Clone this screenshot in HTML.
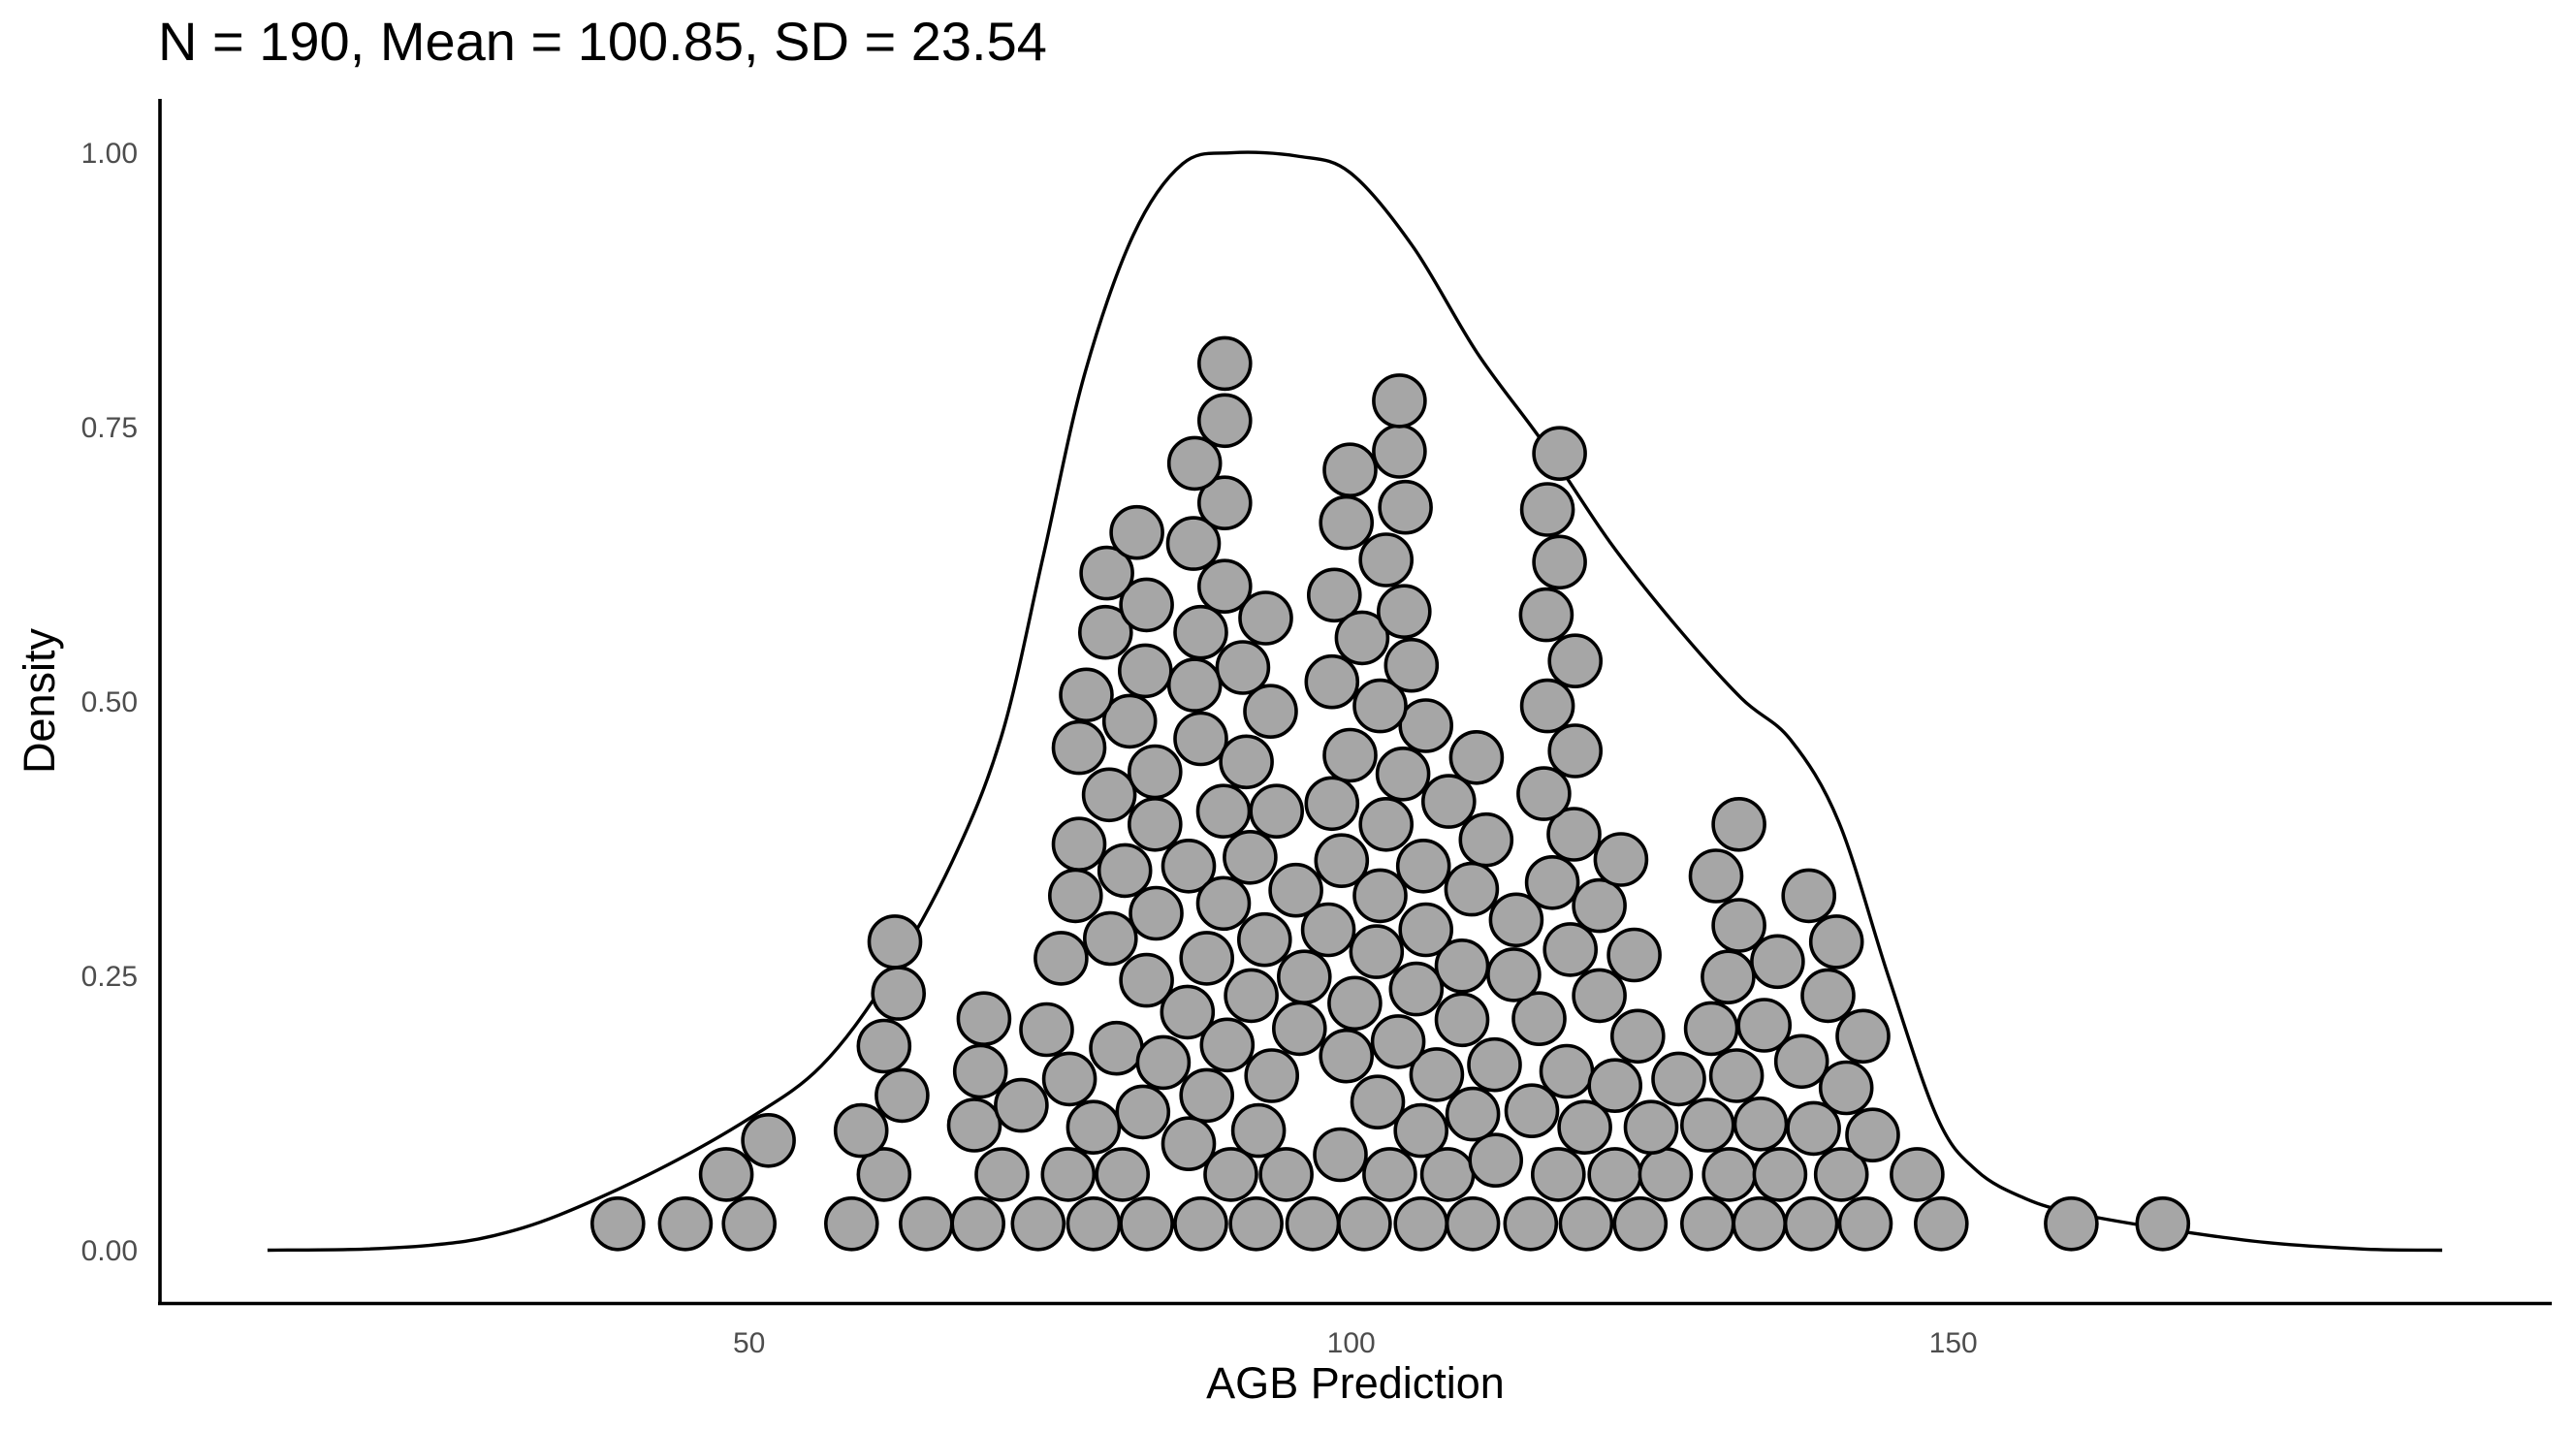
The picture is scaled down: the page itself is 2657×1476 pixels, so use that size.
<!DOCTYPE html>
<html><head><meta charset="utf-8"><style>
html,body{margin:0;padding:0;background:#fff;}
svg{display:block;font-family:"Liberation Sans",Arial,sans-serif;}
</style></head><body>
<svg id="chart" width="2657" height="1476" viewBox="0 0 2657 1476" xmlns="http://www.w3.org/2000/svg">
<text x="163" y="62" font-size="56" fill="#000">N = 190, Mean = 100.85, SD = 23.54</text>
<g id="curve-layer"></g>
<g id="dots"></g>
<g id="axes"></g>
<text x="1398" y="1442" font-size="45" text-anchor="middle" fill="#000">AGB Prediction</text>
<text transform="translate(56,723) rotate(-90)" font-size="45" text-anchor="middle" fill="#000">Density</text>
</svg>
<script>
const dotX = [39.1,44.7,50.0,58.5,64.7,69.0,74.0,78.6,83.0,87.5,92.1,96.8,101.1,105.8,110.1,114.9,119.5,124.0,129.6,133.9,138.2,142.7,149.0,159.8,167.4,
48.1,61.2,71.0,76.5,81.0,90.0,94.6,103.2,108.0,117.2,121.9,126.1,131.4,135.6,140.7,147.0,112.0,
51.6,59.3,68.7,78.6,86.5,92.3,99.1,105.8,110.1,119.4,124.9,129.6,134.0,138.4,143.3,
62.7,69.2,72.6,76.6,82.7,88.0,93.4,102.2,107.1,111.9,115.0,117.9,121.9,127.2,132.0,141.1,137.4,
61.2,69.5,74.7,80.5,84.4,89.7,95.7,99.6,103.9,109.2,115.6,123.8,129.9,134.3,142.5,
62.4,75.9,83.0,86.4,91.7,96.1,100.3,105.4,109.2,113.5,120.6,123.5,131.3,135.4,139.6,
62.1,80.0,83.8,88.0,92.8,98.1,102.1,106.2,113.7,118.2,120.6,132.2,138.0,140.3,
77.1,81.2,86.5,89.4,91.6,95.4,99.2,102.4,106.0,110.0,116.7,122.4,130.3,
77.4,83.7,89.4,93.8,98.4,102.9,108.1,111.2,118.5,132.2,
79.9,83.7,87.5,91.3,99.9,104.3,106.2,110.4,116.0,118.6,77.4,81.6,
78.0,82.9,87.0,91.0,93.3,98.4,102.4,105.0,116.3,118.6,
79.6,83.0,87.5,89.5,92.9,98.6,100.9,104.4,116.2,117.3,
79.7,82.2,86.9,89.5,99.6,102.9,104.5,116.3,
87.0,89.5,89.5,99.9,104.0,104.0,117.3];
const dotY = [0.024,0.024,0.024,0.024,0.024,0.024,0.024,0.024,0.024,0.024,0.024,0.024,0.024,0.024,0.024,0.024,0.024,0.024,0.024,0.024,0.024,0.024,0.024,0.024,0.024,
0.069,0.069,0.069,0.069,0.069,0.069,0.069,0.069,0.069,0.069,0.069,0.069,0.069,0.069,0.069,0.069,0.082,
0.100,0.109,0.114,0.112,0.097,0.109,0.087,0.109,0.124,0.112,0.112,0.114,0.115,0.111,0.105,
0.141,0.163,0.132,0.156,0.126,0.141,0.159,0.135,0.160,0.169,0.127,0.163,0.150,0.156,0.159,0.148,0.172,
0.186,0.211,0.201,0.184,0.171,0.187,0.202,0.177,0.190,0.210,0.211,0.195,0.202,0.205,0.195,
0.234,0.266,0.246,0.217,0.232,0.249,0.225,0.238,0.259,0.251,0.232,0.269,0.249,0.263,0.232,
0.281,0.284,0.307,0.266,0.283,0.292,0.272,0.292,0.301,0.274,0.314,0.296,0.323,0.281,
0.323,0.346,0.350,0.316,0.358,0.328,0.355,0.323,0.350,0.329,0.335,0.356,0.341,
0.370,0.388,0.400,0.400,0.407,0.388,0.409,0.374,0.379,0.388,
0.415,0.436,0.466,0.445,0.451,0.434,0.478,0.449,0.416,0.455,0.458,0.482,
0.506,0.528,0.515,0.531,0.491,0.518,0.496,0.533,0.496,0.537,
0.563,0.588,0.563,0.605,0.576,0.597,0.558,0.582,0.579,0.627,
0.617,0.654,0.644,0.681,0.663,0.629,0.677,0.675,
0.717,0.756,0.808,0.711,0.728,0.774,0.726];
const curveX = [10.0,18,24,28.7,34.2,42.4,50,56,61.5,66.9,71,74.4,77.8,81.9,86,90.1,95.5,99.9,105.1,110.5,116,121.5,126.9,132.4,136.5,140.5,144.6,148.7,152,156,160,167.8,176,184.2,190.6];
const curveY = [0,0.001,0.005,0.013,0.032,0.073,0.12,0.168,0.248,0.355,0.47,0.631,0.796,0.925,0.99,1.0,0.997,0.982,0.915,0.817,0.735,0.645,0.570,0.503,0.465,0.39,0.25,0.12,0.072,0.047,0.034,0.019,0.007,0.001,0];
const xTicks = [50,100,150];
const yTicks = [0,0.25,0.5,0.75,1.0];
const yTickLabels = ["0.00","0.25","0.50","0.75","1.00"];

const NS = "http://www.w3.org/2000/svg";
function sx(v){ return 772.7 + (v-50)*12.42; }
function sy(v){ return 1289.5 - v*1131.9; }
function mk(tag, attrs, parent){ const e=document.createElementNS(NS,tag); for(const k in attrs) e.setAttribute(k,attrs[k]); parent.appendChild(e); return e; }

const cl = document.getElementById('curve-layer');
const P = curveX.map((x,i)=>[sx(x), sy(curveY[i])]);
let d = 'M' + P[0][0].toFixed(1) + ',' + P[0][1].toFixed(1);
for (let i=0;i<P.length-1;i++){
  const p0=P[Math.max(0,i-1)], p1=P[i], p2=P[i+1], p3=P[Math.min(P.length-1,i+2)];
  const c1x=p1[0]+(p2[0]-p0[0])/6, c1y=p1[1]+(p2[1]-p0[1])/6;
  const c2x=p2[0]-(p3[0]-p1[0])/6, c2y=p2[1]-(p3[1]-p1[1])/6;
  d += ' C'+c1x.toFixed(1)+','+c1y.toFixed(1)+' '+c2x.toFixed(1)+','+c2y.toFixed(1)+' '+p2[0].toFixed(1)+','+p2[1].toFixed(1);
}
const path = mk('path',{d:d,fill:'none',stroke:'#000','stroke-width':3.4,'stroke-linejoin':'round'},cl);



const dl = document.getElementById('dots');
dotX.forEach((x,i)=>{
  const c = mk('circle',{cx:sx(x).toFixed(1),cy:sy(dotY[i]).toFixed(1),r:26.5,fill:'#a6a6a6',stroke:'#000','stroke-width':3.6},dl);
  
  
});

const ax = document.getElementById('axes');
const yl = mk('line',{x1:165,y1:102,x2:165,y2:1346,stroke:'#000','stroke-width':3.6},ax);


const xl = mk('line',{x1:163,y1:1344.5,x2:2632,y2:1344.5,stroke:'#000','stroke-width':3.6},ax);


xTicks.forEach(v=>{
  const t = mk('text',{x:sx(v),y:1395,'font-size':30,'text-anchor':'middle',fill:'#4d4d4d'},ax);
  t.textContent = v;
  
  
});
yTicks.forEach((v,i)=>{
  const t = mk('text',{x:142,y:sy(v)+10.5,'font-size':30,'text-anchor':'end',fill:'#4d4d4d'},ax);
  t.textContent = yTickLabels[i];
  
  
});
</script>
</body></html>
